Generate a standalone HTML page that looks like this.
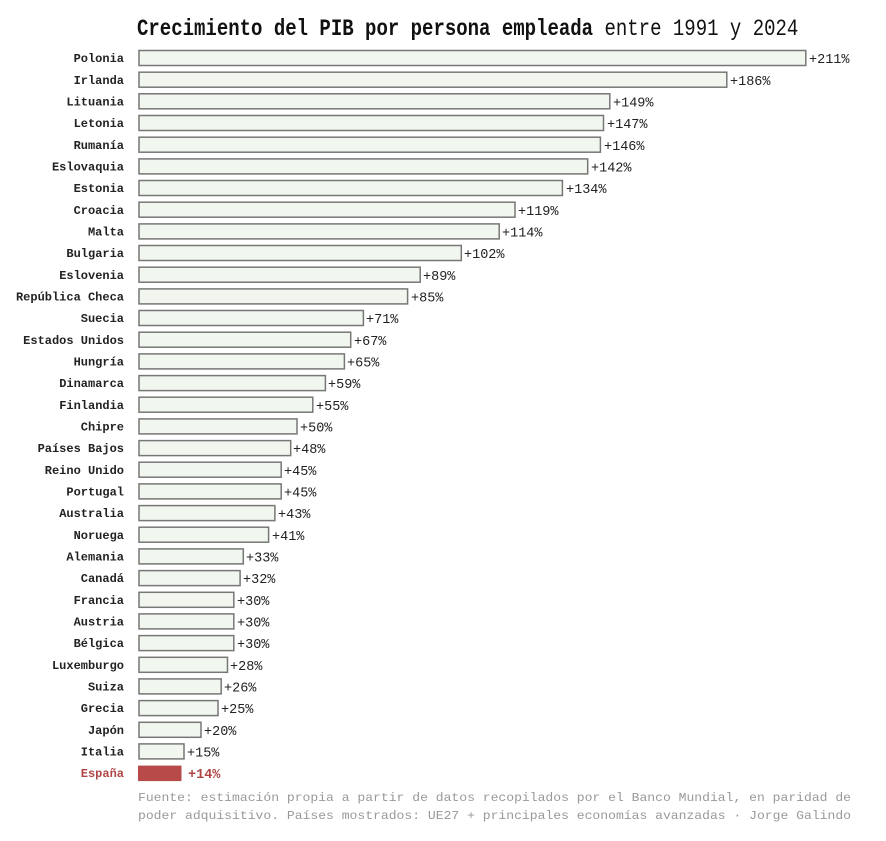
<!DOCTYPE html>
<html><head><meta charset="utf-8"><style>
html,body{margin:0;padding:0;background:#fff;}
svg{display:block;}
.t{position:absolute;left:137px;top:16px;font-family:"Liberation Mono",monospace;font-size:19px;letter-spacing:0px;color:#111;white-space:nowrap;line-height:26px;transform:scaleY(1.2);transform-origin:0 50%;}
.c{font-family:"Liberation Mono",monospace;font-size:12px;font-weight:bold;fill:#222;text-anchor:end;}
.v{font-family:"Liberation Mono",monospace;font-size:13.5px;fill:#222;}
rect.b{fill:#f1f7ef;stroke:#777;stroke-width:1.5;}
.f{font-family:"Liberation Mono",monospace;font-size:12px;fill:#999;}
</style></head><body>
<div class="t"><b>Crecimiento del PIB por persona empleada</b> entre 1991 y 2024</div>
<svg width="886" height="841" xmlns="http://www.w3.org/2000/svg">
<g>
<rect class="b" x="139" y="50.5" width="666.8" height="15"/><text class="c" x="124" y="62">Polonia</text><text class="v" x="809" y="63">+211%</text>
<rect class="b" x="139" y="72.2" width="587.8" height="15"/><text class="c" x="124" y="84">Irlanda</text><text class="v" x="730" y="85">+186%</text>
<rect class="b" x="139" y="93.8" width="470.8" height="15"/><text class="c" x="124" y="105.5">Lituania</text><text class="v" x="613" y="106.5">+149%</text>
<rect class="b" x="139" y="115.5" width="464.5" height="15"/><text class="c" x="124" y="127">Letonia</text><text class="v" x="607" y="128">+147%</text>
<rect class="b" x="139" y="137.2" width="461.4" height="15"/><text class="c" x="124" y="149">Rumanía</text><text class="v" x="604" y="150">+146%</text>
<rect class="b" x="139" y="158.9" width="448.7" height="15"/><text class="c" x="124" y="170.5">Eslovaquia</text><text class="v" x="591" y="171.5">+142%</text>
<rect class="b" x="139" y="180.5" width="423.4" height="15"/><text class="c" x="124" y="192">Estonia</text><text class="v" x="566" y="193">+134%</text>
<rect class="b" x="139" y="202.2" width="376" height="15"/><text class="c" x="124" y="214">Croacia</text><text class="v" x="518" y="215">+119%</text>
<rect class="b" x="139" y="223.9" width="360.2" height="15"/><text class="c" x="124" y="235.5">Malta</text><text class="v" x="502" y="236.5">+114%</text>
<rect class="b" x="139" y="245.5" width="322.3" height="15"/><text class="c" x="124" y="257">Bulgaria</text><text class="v" x="464" y="258">+102%</text>
<rect class="b" x="139" y="267.2" width="281.2" height="15"/><text class="c" x="124" y="279">Eslovenia</text><text class="v" x="423" y="280">+89%</text>
<rect class="b" x="139" y="288.9" width="268.6" height="15"/><text class="c" x="124" y="300.5">República Checa</text><text class="v" x="411" y="301.5">+85%</text>
<rect class="b" x="139" y="310.5" width="224.4" height="15"/><text class="c" x="124" y="322">Suecia</text><text class="v" x="366" y="323">+71%</text>
<rect class="b" x="139" y="332.2" width="211.7" height="15"/><text class="c" x="124" y="344">Estados Unidos</text><text class="v" x="354" y="345">+67%</text>
<rect class="b" x="139" y="353.9" width="205.4" height="15"/><text class="c" x="124" y="365.5">Hungría</text><text class="v" x="347" y="366.5">+65%</text>
<rect class="b" x="139" y="375.6" width="186.4" height="15"/><text class="c" x="124" y="387">Dinamarca</text><text class="v" x="328" y="388">+59%</text>
<rect class="b" x="139" y="397.2" width="173.8" height="15"/><text class="c" x="124" y="409">Finlandia</text><text class="v" x="316" y="410">+55%</text>
<rect class="b" x="139" y="418.9" width="158" height="15"/><text class="c" x="124" y="430.5">Chipre</text><text class="v" x="300" y="431.5">+50%</text>
<rect class="b" x="139" y="440.6" width="151.7" height="15"/><text class="c" x="124" y="452">Países Bajos</text><text class="v" x="293" y="453">+48%</text>
<rect class="b" x="139" y="462.2" width="142.2" height="15"/><text class="c" x="124" y="474">Reino Unido</text><text class="v" x="284" y="475">+45%</text>
<rect class="b" x="139" y="483.9" width="142.2" height="15"/><text class="c" x="124" y="495.5">Portugal</text><text class="v" x="284" y="496.5">+45%</text>
<rect class="b" x="139" y="505.6" width="135.9" height="15"/><text class="c" x="124" y="517">Australia</text><text class="v" x="278" y="518">+43%</text>
<rect class="b" x="139" y="527.2" width="129.6" height="15"/><text class="c" x="124" y="539">Noruega</text><text class="v" x="272" y="540">+41%</text>
<rect class="b" x="139" y="548.9" width="104.3" height="15"/><text class="c" x="124" y="560.5">Alemania</text><text class="v" x="246" y="561.5">+33%</text>
<rect class="b" x="139" y="570.6" width="101.1" height="15"/><text class="c" x="124" y="582">Canadá</text><text class="v" x="243" y="583">+32%</text>
<rect class="b" x="139" y="592.3" width="94.8" height="15"/><text class="c" x="124" y="604">Francia</text><text class="v" x="237" y="605">+30%</text>
<rect class="b" x="139" y="613.9" width="94.8" height="15"/><text class="c" x="124" y="625.5">Austria</text><text class="v" x="237" y="626.5">+30%</text>
<rect class="b" x="139" y="635.6" width="94.8" height="15"/><text class="c" x="124" y="647">Bélgica</text><text class="v" x="237" y="648">+30%</text>
<rect class="b" x="139" y="657.3" width="88.5" height="15"/><text class="c" x="124" y="669">Luxemburgo</text><text class="v" x="230" y="670">+28%</text>
<rect class="b" x="139" y="678.9" width="82.2" height="15"/><text class="c" x="124" y="690.5">Suiza</text><text class="v" x="224" y="691.5">+26%</text>
<rect class="b" x="139" y="700.6" width="79" height="15"/><text class="c" x="124" y="712">Grecia</text><text class="v" x="221" y="713">+25%</text>
<rect class="b" x="139" y="722.3" width="62" height="15"/><text class="c" x="124" y="734">Japón</text><text class="v" x="204" y="735">+20%</text>
<rect class="b" x="139" y="743.9" width="45" height="15"/><text class="c" x="124" y="755.5">Italia</text><text class="v" x="187" y="756.5">+15%</text>
<rect x="138" y="765.6" width="43.5" height="15.5" fill="#b94a4a"/><text class="c" x="124" y="777" style="fill:#b04545">España</text><text class="v" x="188" y="778" style="fill:#b04545;font-weight:bold">+14%</text>
</g>
<text class="f" x="138" y="801" textLength="713" lengthAdjust="spacingAndGlyphs">Fuente: estimación propia a partir de datos recopilados por el Banco Mundial, en paridad de</text>
<text class="f" x="138" y="819" textLength="713" lengthAdjust="spacingAndGlyphs">poder adquisitivo. Países mostrados: UE27 + principales economías avanzadas · Jorge Galindo</text>
</svg>
</body></html>
